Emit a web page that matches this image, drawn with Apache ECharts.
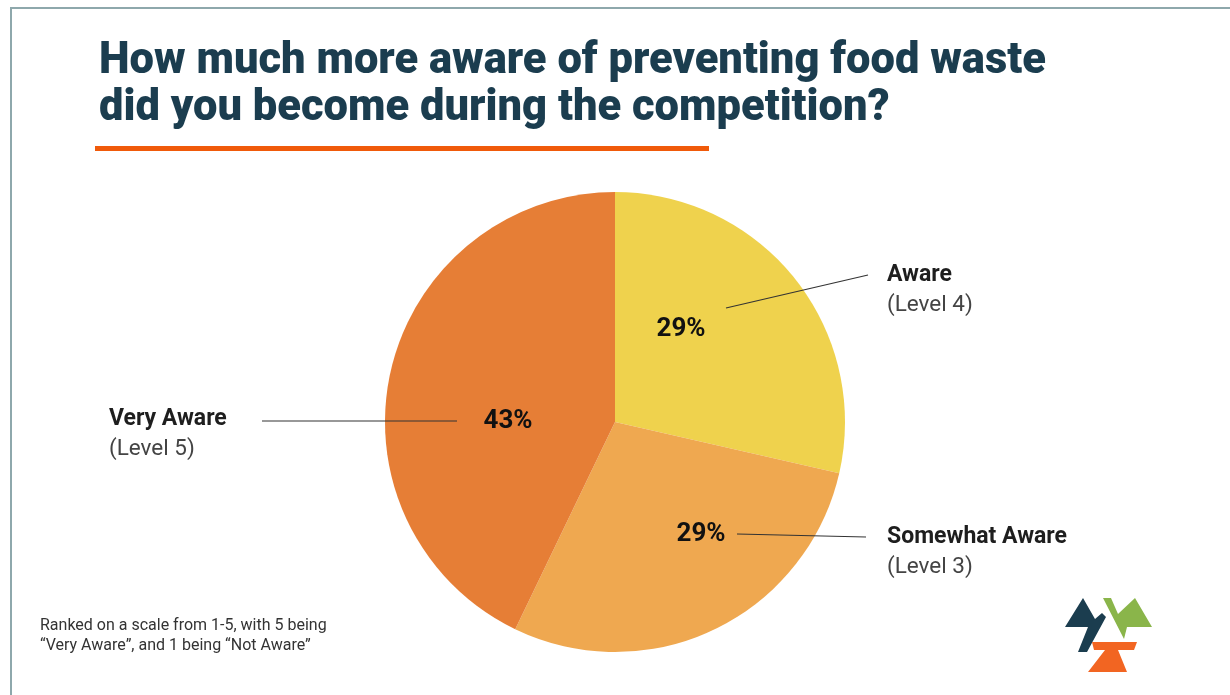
<!DOCTYPE html>
<html>
<head>
<meta charset="utf-8">
<script src="https://cdn.jsdelivr.net/npm/echarts@6/dist/echarts.min.js"></script>
<style>
html,body{margin:0;padding:0;background:#ffffff;}
#chart{width:1230px;height:695px;}
</style>
</head>
<body>
<div id="chart"></div>
<script>
// ---- data ----
const categories = ['Aware', 'Somewhat Aware', 'Very Aware'];
const levels = ['(Level 4)', '(Level 3)', '(Level 5)'];
const responses = [2, 2, 3];
const colors = ['#efd24d', '#efa850', '#e67e36'];

const titleText = 'How much more aware of preventing food waste\ndid you become during the competition?';
const noteText = 'Ranked on a scale from 1-5, with 5 being\n\u201CVery Aware\u201D, and 1 being \u201CNot Aware\u201D';

// ---- layout of annotations (pixels) ----
const pctPos = [[681, 329], [701, 534], [508, 421]];
const namePos = [[887, 260], [887, 522], [109, 404]];
const guideLines = [
  [[726, 308], [797, 291.5], [868, 275]],
  [[737, 534], [801, 535.5], [866, 537]],
  [[457, 421], [360, 421], [262, 421]]
];

const pieData = categories.map((c, i) => ({
  name: c, value: responses[i], itemStyle: { color: colors[i] }
}));

const chart = echarts.init(document.getElementById('chart'), null, { renderer: 'canvas' });

chart.setOption({
  backgroundColor: '#ffffff',
  animation: false,
  title: {
    text: titleText,
    left: 94,
    top: 34,
    textStyle: {
      fontFamily: 'Roboto',
      fontWeight: 900,
      fontSize: 43.5,
      lineHeight: 47,
      color: '#1b3d4f'
    }
  },
  graphic: [
    { type: 'rect', shape: { x: 11, y: 8, width: 1400, height: 900 },
      style: { fill: 'none', stroke: '#8ea8ac', lineWidth: 2 }, silent: true },
    { type: 'rect', shape: { x: 95, y: 146, width: 614, height: 5 },
      style: { fill: '#f05a0a' }, silent: true },
    { type: 'text', left: 40, top: 616,
      style: { text: noteText, font: '16px Roboto', fill: '#333333', lineHeight: 20 } },
    { type: 'polygon', shape: { points: [[1083,598],[1095,619],[1102,613],[1106,617],[1087,652],[1078,652],[1088,627],[1065,627]] },
      style: { fill: '#1b3d4f' }, silent: true },
    { type: 'polygon', shape: { points: [[1103,598],[1111,598],[1118,614],[1135,598],[1152,627],[1127,627],[1124,639]] },
      style: { fill: '#8ab54a' }, silent: true },
    { type: 'polygon', shape: { points: [[1092,642],[1137,642],[1134,650],[1118,650],[1127,672],[1088,672],[1105,650],[1094,650]] },
      style: { fill: '#f26522' }, silent: true }
  ],
  series: [
    {
      type: 'pie',
      center: [615, 422],
      radius: 230,
      startAngle: 90,
      clockwise: true,
      silent: true,
      data: pieData,
      itemStyle: { borderWidth: 0 },
      label: {
        show: true,
        position: 'inside',
        formatter: p => Math.round(p.percent) + '%',
        fontFamily: 'Roboto',
        fontWeight: 'bold',
        fontSize: 26,
        color: '#111111'
      },
      labelLine: { show: false },
      labelLayout: function (params) {
        const p = pctPos[params.dataIndex];
        return { x: p[0], y: p[1], align: 'center', verticalAlign: 'middle' };
      }
    },
    {
      type: 'pie',
      center: [615, 422],
      radius: 230,
      startAngle: 90,
      clockwise: true,
      silent: true,
      z: 3,
      data: pieData.map(d => ({ name: d.name, value: d.value, itemStyle: { color: 'rgba(0,0,0,0)' } })),
      label: {
        show: true,
        position: 'outside',
        formatter: p => '{b|' + p.name + '}\n{l|' + levels[p.dataIndex] + '}',
        rich: {
          b: { fontFamily: 'Roboto', fontWeight: 'bold', fontSize: 23, lineHeight: 30, color: '#1e1e1e', align: 'left' },
          l: { fontFamily: 'Roboto', fontSize: 22.5, lineHeight: 30, color: '#444444', align: 'left' }
        }
      },
      labelLine: { show: true, lineStyle: { color: '#333333', width: 1.2 } },
      labelLayout: function (params) {
        const i = params.dataIndex;
        return {
          x: namePos[i][0], y: namePos[i][1],
          align: 'left', verticalAlign: 'top',
          labelLinePoints: guideLines[i]
        };
      }
    }
  ]
});
</script>
</body>
</html>
